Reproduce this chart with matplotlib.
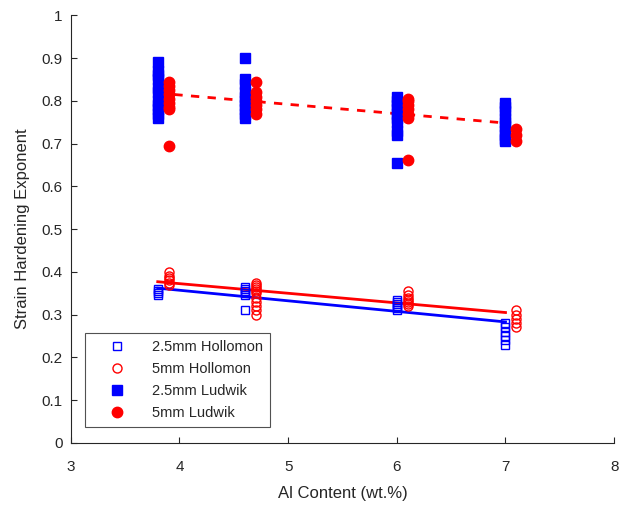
#!/usr/bin/env python3

import numpy
from matplotlib import pyplot
import matplotlib

matplotlib.rcParams["font.family"] = ["Liberation Sans", "DejaVu Sans"]

# Ludwik exponents (filled markers)
LUD_25_X = [3.8, 4.6, 6.0, 7.0]
LUD_25_Y = [
	[0.89, 0.87, 0.86, 0.85, 0.83, 0.82, 0.80, 0.79, 0.78, 0.77, 0.76],
	[0.90, 0.85, 0.84, 0.82, 0.81, 0.80, 0.79, 0.78, 0.77, 0.76],
	[0.81, 0.80, 0.79, 0.78, 0.77, 0.76, 0.75, 0.73, 0.72, 0.655],
	[0.795, 0.785, 0.775, 0.76, 0.75, 0.74, 0.73, 0.72, 0.71, 0.705],
]
LUD_5_X = [3.9, 4.7, 6.1, 7.1]
LUD_5_Y = [
	[0.845, 0.835, 0.825, 0.815, 0.805, 0.795, 0.785, 0.78, 0.694],
	[0.843, 0.82, 0.81, 0.80, 0.79, 0.78, 0.77],
	[0.805, 0.80, 0.79, 0.78, 0.77, 0.76, 0.662],
	[0.735, 0.72, 0.705],
]
# Hollomon exponents (open markers)
HOL_25_X = [3.8, 4.6, 6.0, 7.0]
HOL_25_Y = [
	[0.36, 0.355, 0.35, 0.345],
	[0.365, 0.36, 0.355, 0.35, 0.345, 0.31],
	[0.335, 0.33, 0.325, 0.32, 0.315, 0.31],
	[0.28, 0.27, 0.26, 0.25, 0.24, 0.23],
]
HOL_5_X = [3.9, 4.7, 6.1, 7.1]
HOL_5_Y = [
	[0.40, 0.39, 0.385, 0.38, 0.375, 0.37],
	[0.375, 0.37, 0.365, 0.36, 0.355, 0.35, 0.34, 0.33, 0.32, 0.31, 0.30],
	[0.355, 0.345, 0.34, 0.335, 0.33, 0.325, 0.32],
	[0.31, 0.30, 0.29, 0.28, 0.27],
]
# linear fits
FIT_X = [3.8, 7.0]
FIT_LUD_5 = [0.818, 0.748]
FIT_HOL_25 = [0.362, 0.283]
FIT_HOL_5 = [0.377, 0.305]

LEGEND_LABELS = ["2.5mm Hollomon", "5mm Hollomon", "2.5mm Ludwik", "5mm Ludwik"]

BLUE = "#0000FF"
RED = "#FF0000"
AXCOLOR = "#262626"


def scatter_groups(ax, xs, ys, **kw):
	h = None
	for x, col in zip(xs, ys):
		h, = ax.plot(numpy.full(len(col), x), col, linestyle = "none", **kw)
	return h


def hdl_plot():
	figure = pyplot.figure(figsize = (6.21, 5.08), dpi = 100)
	ax = figure.add_axes([0.114, 0.128, 0.875, 0.842])

	ax.plot(FIT_X, FIT_LUD_5, linestyle = "--", linewidth = 2.0, color = RED, dashes = (3, 3))
	ax.plot(FIT_X, FIT_HOL_25, linestyle = "-", linewidth = 2.0, color = BLUE)
	ax.plot(FIT_X, FIT_HOL_5, linestyle = "-", linewidth = 2.0, color = RED)

	h1 = scatter_groups(ax, HOL_25_X, HOL_25_Y, marker = "s", markersize = 5.5,
		markerfacecolor = "none", markeredgecolor = BLUE, markeredgewidth = 1.0)
	h2 = scatter_groups(ax, HOL_5_X, HOL_5_Y, marker = "o", markersize = 6.5,
		markerfacecolor = "none", markeredgecolor = RED, markeredgewidth = 1.0)
	h3 = scatter_groups(ax, LUD_25_X, LUD_25_Y, marker = "s", markersize = 6.5,
		color = BLUE)
	h4 = scatter_groups(ax, LUD_5_X, LUD_5_Y, marker = "o", markersize = 7.5,
		color = RED)

	ax.set_xlim(3, 8)
	ax.set_ylim(0, 1)
	ax.set_xticks(numpy.arange(3, 9, 1))
	ax.set_yticks(numpy.round(numpy.arange(0, 1.01, 0.1), 1))
	ax.set_yticklabels(["0", "0.1", "0.2", "0.3", "0.4", "0.5", "0.6", "0.7", "0.8", "0.9", "1"])
	ax.spines["top"].set_visible(False)
	ax.spines["right"].set_visible(False)
	for sp in ("left", "bottom"):
		ax.spines[sp].set_color(AXCOLOR)
		ax.spines[sp].set_linewidth(0.8)
	ax.tick_params(direction = "in", length = 4, width = 0.8, colors = AXCOLOR,
		labelsize = 11, pad = 6)
	ax.tick_params(axis = "x", pad = 12)
	ax.set_xlabel("Al Content (wt.%)", fontsize = 12, color = AXCOLOR, labelpad = 9)
	ax.set_ylabel("Strain Hardening Exponent", fontsize = 12, color = AXCOLOR, labelpad = 8)

	leg = ax.legend([h1, h2, h3, h4], LEGEND_LABELS, loc = "lower left",
		bbox_to_anchor = (0.026, 0.037), fontsize = 10.5, frameon = True,
		fancybox = False, borderpad = 0.5, handletextpad = 0.7, labelspacing = 0.55,
		handlelength = 3.4, borderaxespad = 0)
	leg.get_frame().set_edgecolor(AXCOLOR)
	leg.get_frame().set_linewidth(0.8)
	for t in leg.get_texts():
		t.set_color(AXCOLOR)
	return figure


if __name__ == "__main__":
	hdl_plot()
	pyplot.savefig("out.png", dpi = 100)
	pyplot.close()
